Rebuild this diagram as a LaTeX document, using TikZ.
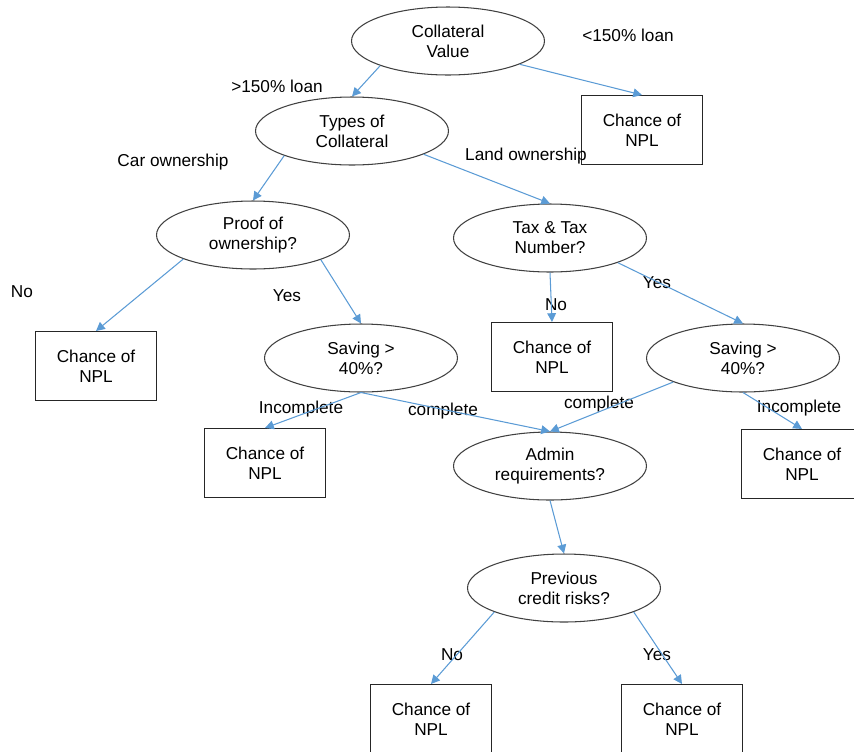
\documentclass[tikz,border=0pt]{standalone}
\usepackage{fontspec}
\setmainfont{Liberation Sans}
\usetikzlibrary{shapes.geometric,arrows.meta}
\definecolor{linkblue}{HTML}{5B9BD5}
\definecolor{edgegray}{HTML}{404040}

\begin{document}
\begin{tikzpicture}[x=0.02cm, y=-0.02cm, >={Triangle[length=5pt,width=5pt]},
  question/.style={ellipse, draw=edgegray, line width=0.6pt, minimum width=3.86cm,
    minimum height=1.36cm, inner sep=0pt, align=center, font=\fontsize{9.8}{11.3}\selectfont},
  outcome/.style={rectangle, draw=black!85, line width=0.6pt, minimum width=2.42cm,
    minimum height=1.38cm, inner sep=0pt, align=center, font=\fontsize{9.8}{11.3}\selectfont},
  branch/.style={inner sep=0pt, font=\fontsize{9.8}{11.3}\selectfont},
  link/.style={->, linkblue, line width=0.6pt}]
  \useasboundingbox (0,0) rectangle (854,751);
  % questions
  \node[question] (coll) at (448,41) {Collateral\\Value};
  \node[question] (types) at (352,131) {Types of\\Collateral};
  \node[question] (proof) at (253,235) {Proof of\\ownership?};
  \node[question] (tax) at (550,238) {Tax \& Tax\\Number?};
  \node[question] (saveL) at (361,358) {Saving \textgreater\\40\%?};
  \node[question] (saveR) at (743,358) {Saving \textgreater\\40\%?};
  \node[question] (admin) at (550,466) {Admin\\requirements?};
  \node[question] (prev) at (564,588) {Previous\\credit risks?};
  % outcomes
  \node[outcome] (nplA) at (642,130) {Chance of\\NPL};
  \node[outcome] (nplB) at (96,366) {Chance of\\NPL};
  \node[outcome] (nplC) at (552,357) {Chance of\\NPL};
  \node[outcome] (nplD) at (265,463) {Chance of\\NPL};
  \node[outcome] (nplE) at (802,464) {Chance of\\NPL};
  \node[outcome] (nplF) at (431,719) {Chance of\\NPL};
  \node[outcome] (nplG) at (682,719) {Chance of\\NPL};
  % branch labels
  \node[branch] (lowloan) at (628,35) {\textless150\% loan};
  \node[branch] (highloan) at (277,86) {\textgreater150\% loan};
  \node[branch] (car) at (173,162) {Car ownership};
  \node[branch] (land) at (526,156) {Land ownership};
  \node[branch] (noA) at (22,292) {No};
  \node[branch] (yesA) at (287,296) {Yes};
  \node[branch] (noB) at (556,305) {No};
  \node[branch] (yesB) at (657,283) {Yes};
  \node[branch] (incL) at (301,409) {Incomplete};
  \node[branch] (compL) at (443,411) {complete};
  \node[branch] (compR) at (599,404) {complete};
  \node[branch] (incR) at (799,408) {Incomplete};
  \node[branch] (noC) at (452,655) {No};
  \node[branch] (yesC) at (657,655) {Yes};
  % connectors
  \draw[link] (coll.200) -- (types.north);
  \draw[link] (coll.342) -- (nplA.north);
  \draw[link] (types.200) -- (proof.north);
  \draw[link] (types.342) -- (tax.north);
  \draw[link] (proof.199) -- (nplB.north);
  \draw[link] (proof.340) -- (saveL.north);
  \draw[link] (tax.south) -- (nplC.north);
  \draw[link] (tax.340) -- (saveR.north);
  \draw[link] (saveL.south) -- (nplD.north);
  \draw[link] (saveL.south) -- (admin.north);
  \draw[link] (saveR.199) -- (admin.north);
  \draw[link] (saveR.south) -- (nplE.north);
  \draw[link] (admin.south) -- (prev.north);
  \draw[link] (prev.199) -- (nplF.north);
  \draw[link] (prev.341) -- (nplG.north);
\end{tikzpicture}
\end{document}
